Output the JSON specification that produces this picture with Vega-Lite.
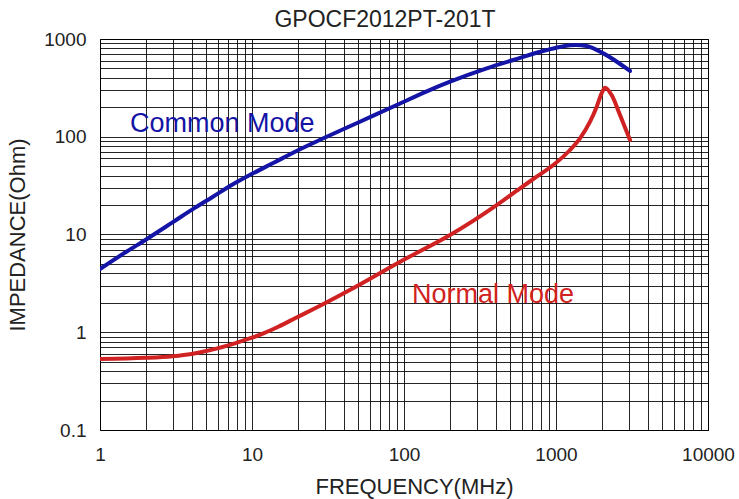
{
  "$schema": "https://vega.github.io/schema/vega-lite/v6.json",
  "width": 608,
  "height": 391,
  "autosize": {"type": "none"},
  "padding": {"left": 100, "top": 39, "right": 31, "bottom": 69},
  "background": "white",
  "config": {
    "view": {"stroke": "#000", "strokeWidth": 1},
    "font": "Liberation Sans",
    "axis": {
      "labelFont": "Liberation Sans",
      "titleFont": "Liberation Sans",
      "labelColor": "#222",
      "titleColor": "#222",
      "labelFontSize": 19,
      "titleFontSize": 22,
      "titleFontWeight": "normal",
      "ticks": false,
      "domain": false,
      "grid": true,
      "gridColor": "#000",
      "gridOpacity": 0.85,
      "gridWidth": 1,
      "labelOverlap": false,
      "labelFlush": false
    }
  },
  "title": {
    "text": "GPOCF2012PT-201T",
    "font": "Liberation Sans",
    "fontSize": 23,
    "fontWeight": "normal",
    "color": "#222",
    "dx": -19,
    "offset": -2
  },
  "datasets": {
    "curves": [
      {"mode": "Common Mode", "f": 1, "z": 4.44},
      {"mode": "Common Mode", "f": 1.5, "z": 6.7},
      {"mode": "Common Mode", "f": 2, "z": 8.85},
      {"mode": "Common Mode", "f": 3, "z": 13.3},
      {"mode": "Common Mode", "f": 4.2, "z": 18.7},
      {"mode": "Common Mode", "f": 5.5, "z": 24.2},
      {"mode": "Common Mode", "f": 7.35, "z": 32.1},
      {"mode": "Common Mode", "f": 10, "z": 41.7},
      {"mode": "Common Mode", "f": 14, "z": 54.5},
      {"mode": "Common Mode", "f": 19.2, "z": 70.3},
      {"mode": "Common Mode", "f": 29.5, "z": 96.4},
      {"mode": "Common Mode", "f": 50, "z": 140},
      {"mode": "Common Mode", "f": 89.5, "z": 211},
      {"mode": "Common Mode", "f": 140, "z": 290},
      {"mode": "Common Mode", "f": 201, "z": 366},
      {"mode": "Common Mode", "f": 350, "z": 501},
      {"mode": "Common Mode", "f": 524, "z": 610},
      {"mode": "Common Mode", "f": 868, "z": 772},
      {"mode": "Common Mode", "f": 1100, "z": 840},
      {"mode": "Common Mode", "f": 1350, "z": 868},
      {"mode": "Common Mode", "f": 1592, "z": 848},
      {"mode": "Common Mode", "f": 2048, "z": 713},
      {"mode": "Common Mode", "f": 3069, "z": 471},
      {"mode": "Normal Mode", "f": 1, "z": 0.532},
      {"mode": "Normal Mode", "f": 2, "z": 0.547},
      {"mode": "Normal Mode", "f": 3, "z": 0.569},
      {"mode": "Normal Mode", "f": 4, "z": 0.6},
      {"mode": "Normal Mode", "f": 5, "z": 0.643},
      {"mode": "Normal Mode", "f": 6, "z": 0.689},
      {"mode": "Normal Mode", "f": 7.7, "z": 0.771},
      {"mode": "Normal Mode", "f": 10, "z": 0.879},
      {"mode": "Normal Mode", "f": 12, "z": 0.98},
      {"mode": "Normal Mode", "f": 15, "z": 1.146},
      {"mode": "Normal Mode", "f": 19.2, "z": 1.39},
      {"mode": "Normal Mode", "f": 26, "z": 1.76},
      {"mode": "Normal Mode", "f": 44, "z": 2.71},
      {"mode": "Normal Mode", "f": 99, "z": 5.49},
      {"mode": "Normal Mode", "f": 201, "z": 9.88},
      {"mode": "Normal Mode", "f": 407, "z": 20},
      {"mode": "Normal Mode", "f": 580, "z": 29.7},
      {"mode": "Normal Mode", "f": 746, "z": 39},
      {"mode": "Normal Mode", "f": 960, "z": 51.4},
      {"mode": "Normal Mode", "f": 1236, "z": 73.2},
      {"mode": "Normal Mode", "f": 1438, "z": 96.4},
      {"mode": "Normal Mode", "f": 1675, "z": 142.6},
      {"mode": "Normal Mode", "f": 1853, "z": 203},
      {"mode": "Normal Mode", "f": 1995, "z": 278},
      {"mode": "Normal Mode", "f": 2100, "z": 318},
      {"mode": "Normal Mode", "f": 2323, "z": 267},
      {"mode": "Normal Mode", "f": 2637, "z": 167},
      {"mode": "Normal Mode", "f": 3069, "z": 92.7}
    ],
    "labels": [
      {"mode": "Common Mode", "f": 1.575, "z": 135},
      {"mode": "Normal Mode", "f": 113, "z": 2.4}
    ]
  },
  "layer": [
    {
      "data": {"name": "curves"},
      "mark": {"type": "line", "strokeWidth": 4, "interpolate": "monotone", "strokeCap": "round", "clip": true},
      "encoding": {
        "x": {
          "field": "f",
          "type": "quantitative",
          "scale": {"type": "log", "domain": [1, 10000], "nice": false},
          "axis": {
            "title": "FREQUENCY(MHz)",
            "labelPadding": 15,
            "titlePadding": 12,
            "titleX": 314,
            "values": [1,2,3,4,5,6,7,8,9,10,20,30,40,50,60,70,80,90,100,200,300,400,500,600,700,800,900,1000,2000,3000,4000,5000,6000,7000,8000,9000,10000],
            "labelExpr": "(datum.value == 1 || datum.value == 10 || datum.value == 100 || datum.value == 1000 || datum.value == 10000) ? '' + datum.value : ''"
          }
        },
        "y": {
          "field": "z",
          "type": "quantitative",
          "scale": {"type": "log", "domain": [0.1, 1000], "nice": false},
          "axis": {
            "title": "IMPEDANCE(Ohm)",
            "labelPadding": 14,
            "titlePadding": 14,
            "values": [0.1,0.2,0.3,0.4,0.5,0.6,0.7,0.8,0.9,1,2,3,4,5,6,7,8,9,10,20,30,40,50,60,70,80,90,100,200,300,400,500,600,700,800,900,1000],
            "labelExpr": "(datum.value == 0.1 || datum.value == 1 || datum.value == 10 || datum.value == 100 || datum.value == 1000) ? '' + datum.value : ''"
          }
        },
        "color": {
          "field": "mode",
          "type": "nominal",
          "scale": {"domain": ["Common Mode", "Normal Mode"], "range": ["#1414a6", "#d02222"]},
          "legend": null
        }
      }
    },
    {
      "data": {"name": "labels"},
      "mark": {"type": "text", "align": "left", "baseline": "middle", "fontSize": 27, "font": "Liberation Sans"},
      "encoding": {
        "x": {"field": "f", "type": "quantitative"},
        "y": {"field": "z", "type": "quantitative"},
        "text": {"field": "mode"},
        "color": {
          "field": "mode",
          "type": "nominal",
          "scale": {"domain": ["Common Mode", "Normal Mode"], "range": ["#2020a0", "#cc2a2a"]},
          "legend": null
        }
      }
    }
  ]
}
